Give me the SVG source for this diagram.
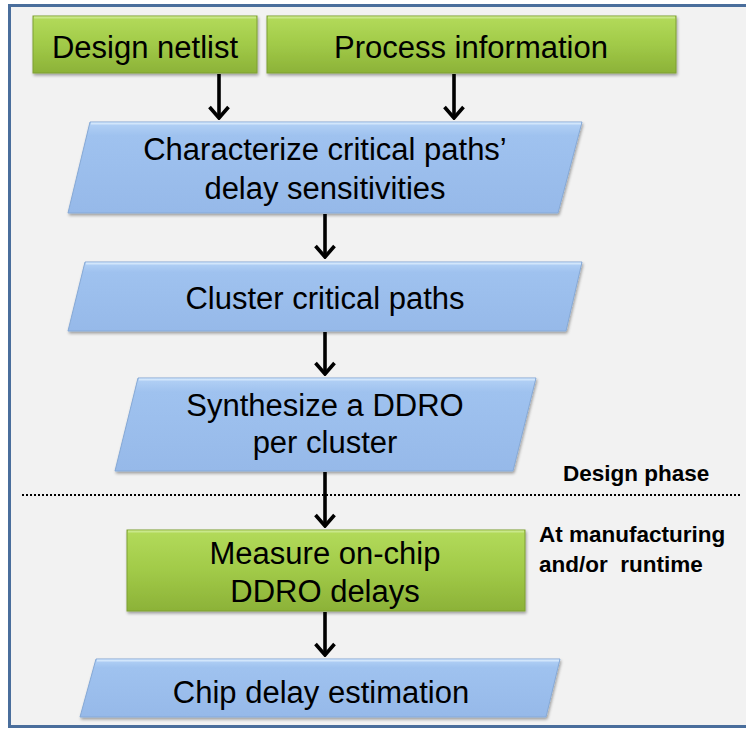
<svg xmlns="http://www.w3.org/2000/svg" width="746" height="730" viewBox="0 0 746 730">
  <style>
    .lbl { font-family: "Liberation Sans", Arial, sans-serif; font-size: 31px; fill: #000; text-anchor: middle; }
    .note { font-family: "Liberation Sans", Arial, sans-serif; font-size: 22.5px; font-weight: bold; fill: #000; }
    .green { fill: url(#gGreen); stroke: #7f9f35; stroke-width: 1; filter: url(#shadow); }
    .blue { fill: url(#gBlue); stroke: #86a9d6; stroke-width: 1; filter: url(#shadow); }
    .hlG { stroke: #c9e88a; stroke-width: 2; fill: none; }
    .hlB { stroke: #d2e6fb; stroke-width: 2; fill: none; }
    .arrow { stroke: #000; stroke-width: 3.6; fill: none; marker-end: url(#head); }
  </style>
  <defs>
    <linearGradient id="gGreen" x1="0" y1="0" x2="0" y2="1">
      <stop offset="0" stop-color="#b3db5b"/>
      <stop offset="0.5" stop-color="#a1ca48"/>
      <stop offset="1" stop-color="#8cb238"/>
    </linearGradient>
    <linearGradient id="gBlue" x1="0" y1="0" x2="0" y2="1">
      <stop offset="0" stop-color="#b4d2f6"/>
      <stop offset="0.15" stop-color="#9fc2ef"/>
      <stop offset="1" stop-color="#96b9e9"/>
    </linearGradient>
    <filter id="shadow" x="-10%" y="-10%" width="120%" height="130%">
      <feGaussianBlur in="SourceAlpha" stdDeviation="1.5"/>
      <feOffset dx="1" dy="2" result="b"/>
      <feComponentTransfer><feFuncA type="linear" slope="0.35"/></feComponentTransfer>
      <feMerge><feMergeNode/><feMergeNode in="SourceGraphic"/></feMerge>
    </filter>
    <!-- open V arrowhead, tip at the line end -->
    <marker id="head" markerUnits="userSpaceOnUse" markerWidth="16" markerHeight="26" viewBox="-14 -13 16 26" refX="0" refY="0" orient="auto">
      <path d="M-11,-9.5 L0,0 L-11,9.5" fill="none" stroke="#000" stroke-width="3.6" stroke-linejoin="miter"/>
    </marker>
  </defs>

  <!-- frame -->
  <rect x="9.5" y="5.5" width="740" height="721" fill="#f2f2f2" stroke="#4a6e9c" stroke-width="3"/>

  <!-- connectors -->
  <g id="connectors">
    <line class="arrow" x1="219" y1="74" x2="219" y2="118"/>
    <line class="arrow" x1="454" y1="74" x2="454" y2="118"/>
    <line class="arrow" x1="325" y1="214" x2="325" y2="257"/>
    <line class="arrow" x1="325" y1="332" x2="325" y2="374"/>
    <line class="arrow" x1="325" y1="472" x2="325" y2="526"/>
    <line class="arrow" x1="325" y1="612" x2="325" y2="655"/>
    <line x1="22" y1="495" x2="742" y2="495" stroke="#000" stroke-width="2" stroke-dasharray="2 2"/>
  </g>

  <g id="design-netlist">
    <rect class="green" x="33" y="16" width="224" height="57"/>
    <line class="hlG" x1="34" y1="17.5" x2="256" y2="17.5"/>
    <text class="lbl" x="145" y="58">Design netlist</text>
  </g>

  <g id="process-information">
    <rect class="green" x="267" y="16" width="409" height="57"/>
    <line class="hlG" x1="268" y1="17.5" x2="675" y2="17.5"/>
    <text class="lbl" x="471" y="58">Process information</text>
  </g>

  <g id="characterize">
    <polygon class="blue" points="90,122 582,122 558,213 68,213"/>
    <line class="hlB" x1="91" y1="123.5" x2="581" y2="123.5"/>
    <text class="lbl" x="325" y="160">Characterize critical paths’</text>
    <text class="lbl" x="325" y="199">delay sensitivities</text>
  </g>

  <g id="cluster">
    <polygon class="blue" points="85,262 582,262 566,331 68,331"/>
    <line class="hlB" x1="86" y1="263.5" x2="581" y2="263.5"/>
    <text class="lbl" x="325" y="309">Cluster critical paths</text>
  </g>

  <g id="synthesize">
    <polygon class="blue" points="138,378 536,378 513,471 115,471"/>
    <line class="hlB" x1="139" y1="379.5" x2="535" y2="379.5"/>
    <text class="lbl" x="325" y="416">Synthesize a DDRO</text>
    <text class="lbl" x="325" y="453">per cluster</text>
  </g>

  <g id="design-phase">
    <text class="note" x="563" y="481">Design phase</text>
  </g>

  <g id="measure">
    <rect class="green" x="127" y="530" width="398" height="81"/>
    <line class="hlG" x1="128" y1="531.5" x2="524" y2="531.5"/>
    <text class="lbl" x="325" y="564">Measure on-chip</text>
    <text class="lbl" x="325" y="602">DDRO delays</text>
  </g>

  <g id="manufacturing">
    <text class="note" x="539" y="542">At manufacturing</text>
    <text class="note" x="539" y="572" xml:space="preserve">and/or  runtime</text>
  </g>

  <g id="estimation">
    <polygon class="blue" points="96,659 560,659 546,717 80,717"/>
    <line class="hlB" x1="97" y1="660.5" x2="559" y2="660.5"/>
    <text class="lbl" x="321" y="703">Chip delay estimation</text>
  </g>
</svg>
